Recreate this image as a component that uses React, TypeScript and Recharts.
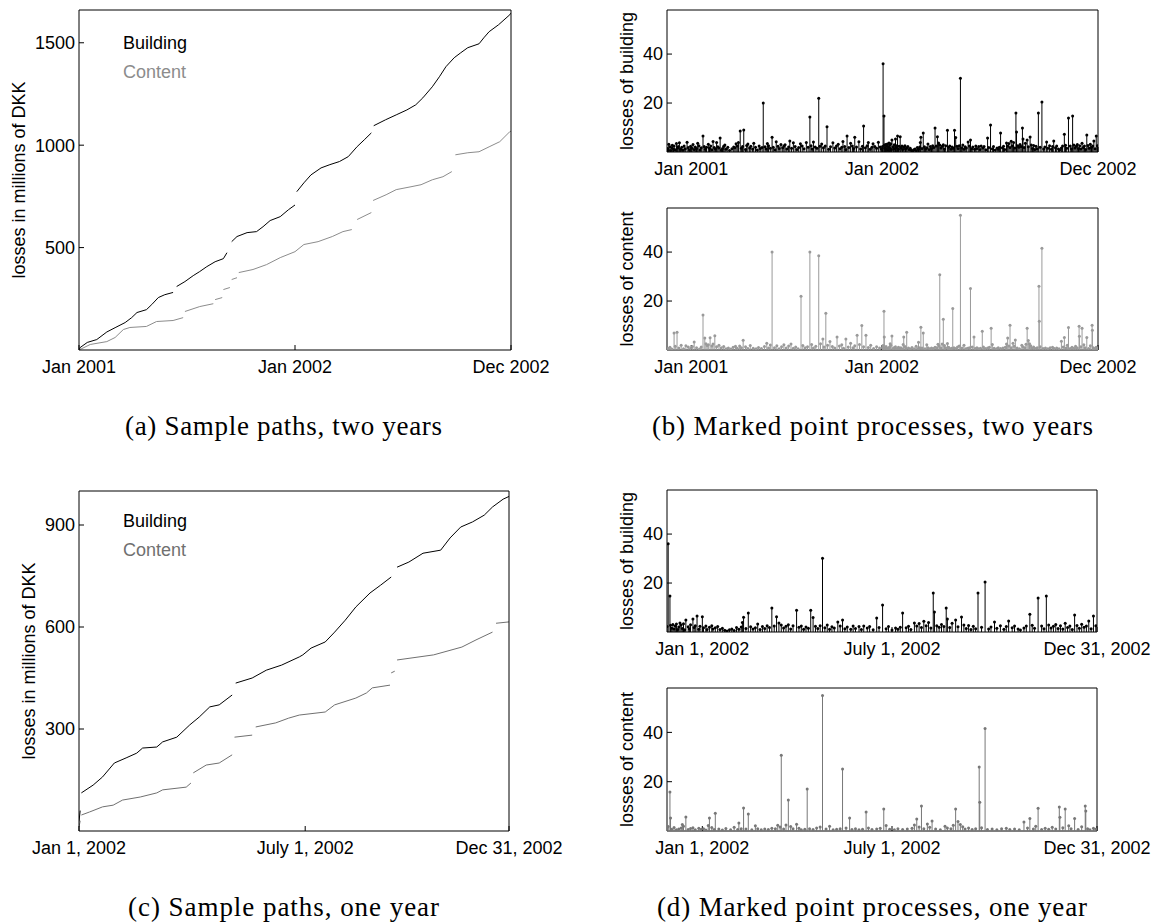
import React from 'react';
import { LineChart, Line, ScatterChart, Scatter, XAxis, YAxis, Legend } from 'recharts';

type Pt = [number, number];

const SANS = '"Liberation Sans", Arial, Helvetica, sans-serif';
const SERIF = '"Liberation Serif", "Times New Roman", serif';

// ---------- axis ticks (x in days) ----------
const pathTicks2y = [0, 365, 730];
const pathLabels2y = ['Jan 2001', 'Jan 2002', 'Dec 2002'];
const markTicks2y = [41, 364, 730];
const markLabels2y = ['Jan 2001', 'Jan 2002', 'Dec 2002'];
const pathTicks1y = [0, 192, 365];
const pathLabels1y = ['Jan 1, 2002', 'July 1, 2002', 'Dec 31, 2002'];
const markTicks1y = [30, 191, 365];
const markLabels1y = ['Jan 1, 2002', 'July 1, 2002', 'Dec 31, 2002'];

const lossTicks2y = [500, 1000, 1500];
const lossTicks1y = [300, 600, 900];
const markValueTicks = [20, 40];

// ---------- cumulative losses, two years (segments split at large jumps) ----------
const buildingPath2y: Pt[][] = [
  [[0, 0], [2, 12], [14, 37], [30, 51], [47, 88], [61, 109], [78, 134], [89, 158], [98, 183], [114, 197], [123, 222], [134, 256], [145, 270], [159, 281]],
  [[165, 310], [179, 334], [193, 363], [204, 383], [216, 407], [230, 431], [244, 446], [250, 475]],
  [[258, 529], [267, 554], [284, 573], [300, 578], [311, 602], [323, 632], [340, 651], [354, 685], [365, 708]],
  [[368, 773], [380, 816], [392, 855], [409, 889], [424, 905], [440, 920], [455, 944], [470, 993], [482, 1026], [494, 1060]],
  [[498, 1095], [518, 1124], [536, 1148], [554, 1172], [569, 1197], [581, 1231], [597, 1285], [609, 1334], [620, 1383], [634, 1427], [645, 1451], [657, 1476], [676, 1495], [684, 1524], [693, 1554], [709, 1588], [728, 1637], [730, 1645]],
];
const contentPath2y: Pt[][] = [
  [[0, 0], [19, 27], [47, 41], [61, 61], [75, 100], [86, 110], [114, 115], [131, 139], [159, 144], [176, 158]],
  [[179, 188], [204, 212], [227, 226]],
  [[230, 246], [242, 256]],
  [[244, 295], [255, 305]],
  [[258, 344], [267, 353]],
  [[270, 378], [294, 393], [317, 417], [340, 451], [365, 480], [380, 515], [404, 529], [428, 554], [446, 578], [461, 588]],
  [[470, 637], [494, 671]],
  [[497, 730], [519, 758], [536, 783], [561, 797], [578, 807], [597, 831], [615, 846], [630, 871]],
  [[636, 953], [657, 963], [676, 968], [693, 992], [711, 1017], [728, 1066], [730, 1068]],
];

// ---------- cumulative losses, one year ----------
const buildingPath1y: Pt[][] = [
  [[0, 28], [1, 60]],
  [[2, 112], [12, 135], [20, 159], [30, 200], [40, 215], [49, 229], [54, 244], [66, 247], [71, 262], [83, 276], [94, 312], [102, 335], [111, 365], [119, 371], [130, 400]],
  [[133, 435], [147, 450], [159, 473], [172, 488], [187, 512], [190, 518], [197, 538], [209, 556], [217, 585], [226, 620], [235, 659], [247, 700], [256, 723], [265, 747]],
  [[270, 776], [280, 791], [292, 817], [307, 826], [315, 862], [324, 894], [334, 909], [344, 929], [351, 953], [360, 976], [365, 984]],
];
const contentPath1y: Pt[][] = [
  [[0, 12], [1, 30]],
  [[2, 47], [9, 56], [20, 71], [29, 76], [37, 91], [52, 100], [66, 112], [71, 121], [91, 129], [95, 141]],
  [[97, 171], [108, 194], [119, 200], [130, 224]],
  [[132, 276], [147, 282]],
  [[150, 306], [167, 318], [178, 332], [187, 341], [209, 350], [217, 371], [235, 391], [244, 406], [249, 421], [264, 429]],
  [[265, 465], [268, 470]],
  [[270, 503], [301, 518], [325, 541], [337, 562], [351, 585]],
  [[354, 611], [365, 615]],
];

// ---------- individual losses [day of year, loss] ----------
const buildingMarks2001: Pt[] = [
  [34, 4.0], [61, 6.5], [90, 5.7], [124, 8.6], [130, 9.0], [163, 20.0], [178, 6.0], [208, 4.5], [242, 14.3], [257, 22.0], [271, 10.3], [305, 6.5], [318, 6.0], [333, 10.6],
  [3, 3.2], [9, 2.8], [16, 3.5], [21, 3.8], [44, 3.1], [52, 3.6], [70, 3.2], [78, 4.3], [84, 3.9], [98, 2.9], [117, 3.4], [121, 3.9], [137, 3.3], [147, 3.6], [170, 3.5], [185, 4.2],
  [193, 3.1], [200, 3.0], [214, 3.8], [226, 3.4], [236, 3.9], [248, 4.1], [262, 3.3], [281, 3.8], [290, 3.2], [298, 4.3], [311, 3.6], [325, 4.2], [341, 3.9], [349, 3.4], [358, 4.0],
  [1, 1.4], [2, 0.8], [5, 2.1], [6, 0.6], [8, 1.7], [11, 1.2], [12, 2.4], [14, 0.9], [18, 1.6], [19, 2.2], [23, 1.1], [25, 1.9], [27, 0.7], [29, 2.5], [31, 1.3], [36, 1.8],
  [38, 0.9], [40, 2.3], [42, 1.5], [46, 1.0], [48, 2.0], [50, 1.4], [54, 2.6], [56, 0.8], [58, 1.7], [63, 2.2], [65, 1.1], [67, 1.9], [72, 1.5], [74, 2.4], [76, 0.9], [80, 1.8],
  [82, 1.2], [86, 2.1], [88, 1.6], [92, 0.7], [94, 1.4], [96, 2.3], [100, 1.1], [103, 1.9], [106, 0.6], [110, 1.3], [113, 2.0], [115, 1.7], [119, 2.5], [126, 1.5], [128, 2.2],
  [133, 1.0], [135, 2.7], [140, 1.6], [142, 2.3], [145, 1.2], [150, 1.9], [153, 0.8], [156, 2.4], [158, 1.4], [161, 1.8], [166, 2.1], [168, 1.2], [172, 2.6], [175, 1.5],
  [180, 1.9], [183, 0.9], [188, 2.3], [190, 1.4], [196, 1.7], [198, 2.5], [203, 1.2], [206, 2.0], [211, 1.5], [217, 2.2], [220, 1.0], [223, 1.8], [229, 2.4], [232, 1.3],
  [239, 1.9], [244, 2.6], [246, 1.2], [251, 2.0], [254, 1.5], [259, 2.3], [265, 1.7], [268, 2.5], [274, 1.1], [277, 2.1], [284, 1.6], [287, 2.4], [293, 1.3], [296, 1.9],
  [301, 2.2], [303, 1.0], [308, 1.8], [314, 2.5], [316, 1.4], [321, 2.0], [328, 1.2], [331, 2.3], [336, 1.7], [339, 2.6], [344, 1.1], [347, 1.9], [352, 2.2], [355, 1.5],
  [361, 2.0], [363, 1.2],
];
const buildingMarks2002: Pt[] = [
  [1, 36.0], [2.5, 14.7], [11, 3.7], [16, 4.9], [22, 5.3], [25.5, 6.5], [30, 6.2], [65, 6.0], [69, 7.8], [89, 9.8], [93, 6.2], [110, 8.9], [122, 8.9], [124, 5.9], [132, 30.1],
  [145, 4.1], [149, 4.9], [178, 5.7], [183, 11.0], [200, 7.8], [210, 3.7], [226, 15.9], [227, 8.2], [237, 9.8], [238, 5.3], [245, 4.9], [250, 6.1], [264, 15.9], [270, 20.4],
  [278, 4.1], [290, 4.5], [308, 7.3], [315, 13.9], [322, 14.7], [346, 6.9], [358, 4.5], [362, 6.5],
  [0, 2.2], [3, 2.8], [4, 1.5], [5, 3.1], [6, 1.2], [7, 2.4], [8, 3.3], [9, 1.0], [10, 2.0], [12, 2.9], [13, 1.4], [14, 3.4], [15, 0.9], [18, 2.1], [19, 1.3], [20, 3.0],
  [23, 1.8], [24, 2.6], [27, 1.1], [28, 2.3], [31, 1.7], [33, 2.5], [34, 1.0], [36, 1.9], [38, 2.6], [39, 1.2], [41, 1.7], [43, 2.2], [45, 1.0], [47, 1.5], [49, 0.7],
  [51, 0.4], [53, 0.9], [55, 1.2], [57, 0.6], [59, 1.8], [61, 1.1], [63, 2.0], [64, 3.9], [67, 1.4], [71, 2.1], [73, 1.2], [75, 1.7], [77, 3.3], [79, 1.0], [81, 2.2],
  [83, 1.4], [85, 2.6], [87, 1.8], [91, 2.4], [95, 3.7], [97, 2.9], [99, 1.6], [101, 2.3], [103, 3.0], [105, 1.2], [107, 2.6], [112, 1.9], [114, 2.4], [116, 1.1], [118, 2.0],
  [120, 1.5], [126, 2.3], [128, 1.4], [130, 2.6], [134, 1.7], [136, 2.9], [138, 1.1], [140, 2.1], [142, 1.6], [147, 2.4], [151, 1.3], [153, 2.0], [156, 1.1], [158, 2.5],
  [160, 1.4], [163, 2.2], [165, 1.0], [167, 2.4], [170, 1.6], [172, 2.2], [175, 0.9], [180, 1.8], [186, 1.3], [188, 2.2], [191, 0.8], [194, 1.6], [196, 1.1], [198, 1.9],
  [203, 1.7], [205, 2.3], [207, 1.0], [212, 2.4], [214, 3.5], [216, 1.8], [218, 4.4], [220, 2.6], [222, 3.9], [224, 1.6], [229, 2.6], [231, 1.9], [233, 3.1], [235, 2.2],
  [240, 1.8], [242, 3.6], [247, 2.1], [252, 2.9], [254, 1.4], [256, 2.7], [258, 1.0], [260, 2.3], [262, 1.3], [267, 1.9], [273, 1.2], [275, 2.0], [280, 1.5], [283, 2.6],
  [286, 1.1], [288, 2.2], [293, 1.7], [295, 2.5], [298, 1.2], [300, 0.8], [303, 1.6], [305, 2.4], [310, 2.8], [312, 1.5], [318, 2.4], [320, 1.3], [324, 2.9], [326, 1.6],
  [328, 2.3], [330, 3.1], [332, 1.4], [334, 2.6], [336, 1.2], [338, 3.6], [340, 1.8], [342, 2.5], [344, 1.0], [348, 2.7], [350, 1.5], [352, 3.2], [354, 1.9], [356, 2.4],
  [360, 1.3], [364, 2.6],
];
const contentMarks2001: Pt[] = [
  [12, 6.9], [17, 7.3], [46, 3.3], [61, 14.3], [64, 4.9], [73, 5.0], [81, 5.8], [129, 4.0], [169, 2.8], [178, 40.0], [227, 22.0], [242, 40.0], [257, 38.5], [264, 4.5],
  [269, 15.0], [288, 5.3], [303, 4.5], [322, 6.0], [330, 10.0], [337, 6.0],
  [2, 0.6], [5, 1.1], [8, 0.4], [14, 1.5], [20, 0.8], [24, 1.9], [28, 0.5], [32, 1.7], [36, 1.2], [40, 0.6], [43, 1.4], [50, 0.9], [55, 0.4], [58, 1.2], [66, 2.6], [68, 1.8],
  [70, 2.1], [76, 1.6], [78, 2.4], [84, 1.3], [88, 1.9], [92, 0.9], [96, 1.4], [100, 0.5], [104, 0.8], [108, 0.4], [112, 1.1], [116, 1.5], [119, 0.7], [123, 1.6], [126, 0.9],
  [133, 1.3], [137, 0.6], [141, 1.8], [146, 0.7], [151, 0.5], [155, 1.0], [160, 0.6], [165, 1.4], [172, 0.8], [175, 2.0], [182, 0.9], [186, 1.7], [190, 0.5], [194, 1.3],
  [198, 2.1], [202, 0.8], [206, 1.6], [210, 2.4], [214, 0.7], [218, 1.2], [222, 0.5], [230, 1.8], [234, 0.9], [238, 1.3], [245, 2.2], [248, 0.8], [252, 1.5], [260, 2.6],
  [266, 1.2], [272, 1.9], [276, 3.5], [280, 1.4], [284, 0.8], [292, 1.6], [296, 2.1], [299, 0.7], [307, 1.2], [311, 2.8], [315, 0.9], [318, 1.7], [326, 2.2], [333, 1.3],
  [341, 1.0], [345, 1.9], [350, 0.6], [355, 1.3], [360, 0.8],
];
const contentMarks2002: Pt[] = [
  [2.5, 15.8], [3, 5.3], [16, 5.7], [36, 5.3], [41, 7.2], [61, 3.2], [65, 9.3], [69, 6.9], [97, 30.7], [103, 12.6], [119, 17.0], [132, 55.0], [149, 25.1], [155, 5.3],
  [169, 7.7], [184, 8.9], [212, 4.9], [216, 10.1], [225, 4.1], [245, 8.9], [265, 26.0], [265.5, 11.7], [270, 41.6], [303, 3.6], [308, 5.1], [315, 9.2], [333, 9.7],
  [333.5, 5.6], [338, 8.9], [346, 5.1], [355, 10.1], [355.5, 8.1],
  [0, 0.9], [1, 1.8], [4, 0.7], [6, 1.4], [8, 0.5], [10, 0.8], [12, 1.2], [13, 2.6], [14, 1.9], [18, 0.6], [20, 1.0], [22, 1.3], [24, 0.5], [27, 1.1], [29, 0.7], [31, 0.9],
  [33, 0.4], [35, 2.2], [38, 1.4], [40, 0.6], [44, 0.8], [47, 0.4], [50, 1.0], [54, 0.5], [57, 1.5], [60, 0.6], [63, 0.9], [67, 0.8], [72, 0.5], [75, 2.1], [77, 0.9],
  [80, 0.5], [83, 0.8], [86, 0.6], [89, 1.1], [92, 0.9], [94, 2.3], [96, 1.6], [99, 0.8], [101, 2.4], [105, 1.8], [107, 0.9], [110, 2.7], [112, 1.1], [114, 0.5], [117, 0.7],
  [121, 0.9], [124, 0.6], [127, 1.2], [130, 1.6], [135, 0.8], [138, 1.9], [141, 0.5], [144, 0.7], [147, 0.9], [152, 1.2], [157, 0.6], [160, 0.9], [163, 0.5], [166, 0.7],
  [171, 1.2], [174, 0.6], [178, 0.8], [181, 1.1], [186, 2.2], [189, 0.7], [193, 0.5], [196, 0.9], [200, 0.6], [204, 0.8], [208, 1.1], [210, 2.4], [214, 1.6], [218, 0.9],
  [221, 2.8], [223, 1.5], [228, 0.8], [232, 0.5], [236, 1.9], [238, 1.2], [241, 0.9], [243, 2.3], [247, 3.9], [249, 2.6], [251, 1.7], [253, 0.8], [256, 1.2], [259, 0.6],
  [262, 0.9], [267, 1.3], [272, 0.6], [276, 0.8], [280, 0.5], [284, 0.9], [288, 1.1], [291, 0.6], [295, 0.8], [299, 0.5], [306, 1.2], [311, 0.8], [313, 1.9], [318, 0.6],
  [321, 1.1], [324, 0.7], [327, 1.5], [330, 0.8], [336, 1.3], [341, 2.1], [343, 0.9], [349, 0.6], [352, 1.7], [357, 0.9], [359, 0.5], [362, 1.1], [364, 0.7],
];

// ---------- table builders ----------
type Row = { t: number; v: number | null };

// Joins the segments of a path, with a null row between segments so the line breaks at jumps.
function pathRows(segments: Pt[][]): Row[] {
  const rows: Row[] = [];
  segments.forEach((seg, i) => {
    if (i > 0) {
      const prev = segments[i - 1];
      rows.push({ t: (prev[prev.length - 1][0] + seg[0][0]) / 2, v: null });
    }
    seg.forEach(([t, v]) => rows.push({ t, v }));
  });
  return rows;
}

function markRows(first: Pt[], second?: Pt[]): Row[] {
  const rows: Row[] = first.map(([t, v]) => ({ t, v }));
  if (second) second.forEach(([t, v]) => rows.push({ t: t + 365, v }));
  return rows;
}

// ---------- shared pieces ----------
const axisText = { fontSize: 18, fontFamily: SANS, fill: '#000' };
const frameLine = { stroke: '#000', strokeWidth: 1 };

const fmt = (ticks: number[], labels: string[]) => (v: number) => {
  const i = ticks.indexOf(v);
  return i >= 0 ? labels[i] : '';
};

function YTitle(props: any) {
  const { viewBox, text, bx } = props;
  const vb = viewBox && typeof viewBox.y === 'number' ? viewBox : { y: 0, height: 0 };
  const cy = vb.y + vb.height / 2;
  return (
    <text x={bx} y={cy} transform={`rotate(-90 ${bx} ${cy})`} textAnchor="middle"
      style={{ fontSize: 18, fontFamily: SANS }} fill="#000">
      {text}
    </text>
  );
}

// Four axes that together draw the boxed frame with inward ticks on every side.
function frameAxes(opts: {
  xDomain: [number, number]; xTicks: number[]; xLabels: string[]; xHeight: number;
  yDomain: [number, number]; yTicks: number[]; yWidth: number; yTitle: string; titleX: number;
}) {
  return [
    <XAxis key="xb" xAxisId="b" dataKey="t" type="number" domain={opts.xDomain} ticks={opts.xTicks}
      interval={0} allowDataOverflow tickFormatter={fmt(opts.xTicks, opts.xLabels)} tick={axisText}
      tickSize={-5} tickMargin={15} height={opts.xHeight} axisLine={frameLine} tickLine={frameLine} />,
    <XAxis key="xt" xAxisId="t" orientation="top" type="number" domain={opts.xDomain} ticks={opts.xTicks}
      interval={0} allowDataOverflow tick={false} tickSize={-5} height={1} axisLine={frameLine} tickLine={frameLine} />,
    <YAxis key="yl" yAxisId="l" dataKey="v" type="number" domain={opts.yDomain} ticks={opts.yTicks}
      interval={0} allowDataOverflow tick={axisText} tickSize={-5} tickMargin={9} width={opts.yWidth}
      axisLine={frameLine} tickLine={frameLine} label={<YTitle text={opts.yTitle} bx={opts.titleX} />} />,
    <YAxis key="yr" yAxisId="r" orientation="right" type="number" domain={opts.yDomain} ticks={opts.yTicks}
      interval={0} allowDataOverflow tick={false} tickSize={-5} width={1} axisLine={frameLine} tickLine={frameLine} />,
  ];
}

function PathLegend(props: any) {
  const items = props.payload || [];
  return (
    <div style={{ fontFamily: SANS, fontSize: 18, lineHeight: '29px' }}>
      {items.map((it: any) => (
        <div key={it.value} style={{ color: it.color, whiteSpace: 'nowrap' }}>{it.value}</div>
      ))}
    </div>
  );
}

function PathPanel(props: {
  top: number; plotRight: number; building: Pt[][]; content: Pt[][]; contentColor: string;
  xDomain: [number, number]; xTicks: number[]; xLabels: string[];
  yMax: number; yTicks: number[]; titleX: number; legendTop: number;
}) {
  const W = 580;
  const H = 400;
  return (
    <div style={{ position: 'absolute', left: 0, top: props.top }}>
      <LineChart width={W} height={H} margin={{ top: 9, right: W - props.plotRight - 1, bottom: 0, left: 0 }}>
        {frameAxes({
          xDomain: props.xDomain, xTicks: props.xTicks, xLabels: props.xLabels, xHeight: 50,
          yDomain: [0, props.yMax], yTicks: props.yTicks, yWidth: 79,
          yTitle: 'losses in millions of DKK', titleX: props.titleX,
        })}
        <Legend layout="vertical" align="center" verticalAlign="middle"
          wrapperStyle={{ left: 123, top: props.legendTop, width: 120 }} content={PathLegend} />
        <Line xAxisId="b" yAxisId="l" data={pathRows(props.building)} dataKey="v" name="Building"
          stroke="#000" strokeWidth={1} dot={false} isAnimationActive={false} />
        <Line xAxisId="b" yAxisId="l" data={pathRows(props.content)} dataKey="v" name="Content"
          stroke={props.contentColor} strokeWidth={1} dot={false} isAnimationActive={false} />
      </LineChart>
    </div>
  );
}

const stemShape = (color: string, baseY: number) => (p: any) => {
  const { cx, cy } = p;
  if (cx == null || cy == null) return <g />;
  return (
    <g>
      <line x1={cx} x2={cx} y1={cy} y2={baseY} stroke={color} strokeWidth={1} />
      <circle cx={cx} cy={cy} r={1.5} fill={color} />
    </g>
  );
};

function StemPanel(props: {
  top: number; plotH: number; plotRight: number; rows: Row[]; color: string; title: string;
  xDomain: [number, number]; xTicks: number[]; xLabels: string[];
}) {
  const W = 578;
  const H = 10 + props.plotH + 40;
  return (
    <div style={{ position: 'absolute', left: 580, top: props.top }}>
      <ScatterChart width={W} height={H} margin={{ top: 9, right: W - (props.plotRight - 580) - 1, bottom: 0, left: 0 }}>
        {frameAxes({
          xDomain: props.xDomain, xTicks: props.xTicks, xLabels: props.xLabels, xHeight: 40,
          yDomain: [0, 58], yTicks: markValueTicks, yWidth: 87, yTitle: props.title, titleX: 53,
        })}
        <Scatter xAxisId="b" yAxisId="l" data={props.rows} dataKey="v" name={props.title}
          shape={stemShape(props.color, 10 + props.plotH)} isAnimationActive={false} />
      </ScatterChart>
    </div>
  );
}

const captionStyle = { fontFamily: SERIF, fontSize: 27, fill: '#000' };

export default function App() {
  return (
    <div style={{ position: 'absolute', left: 0, top: 0, width: 1158, height: 924, background: '#fff', overflow: 'hidden' }}>
      <svg width={1158} height={924} style={{ position: 'absolute', left: 0, top: 0 }}>
        <text x={125} y={435} textLength={317} lengthAdjust="spacing" style={captionStyle}>(a) Sample paths, two years</text>
        <text x={652} y={435} textLength={441} lengthAdjust="spacing" style={captionStyle}>(b) Marked point processes, two years</text>
        <text x={128} y={916} textLength={311} lengthAdjust="spacing" style={captionStyle}>(c) Sample paths, one year</text>
        <text x={657} y={916} textLength={430} lengthAdjust="spacing" style={captionStyle}>(d) Marked point processes, one year</text>
      </svg>

      <PathPanel top={0} plotRight={511} building={buildingPath2y} content={contentPath2y} contentColor="#8c8c8c"
        xDomain={[0, 730]} xTicks={pathTicks2y} xLabels={pathLabels2y}
        yMax={1660} yTicks={lossTicks2y} titleX={25} legendTop={29} />

      <PathPanel top={481} plotRight={509} building={buildingPath1y} content={contentPath1y} contentColor="#707070"
        xDomain={[0, 365]} xTicks={pathTicks1y} xLabels={pathLabels1y}
        yMax={1000} yTicks={lossTicks1y} titleX={35} legendTop={26} />

      <StemPanel top={0} plotH={142} plotRight={1098} rows={markRows(buildingMarks2001, buildingMarks2002)}
        color="#000" title="losses of building" xDomain={[0, 730]} xTicks={markTicks2y} xLabels={markLabels2y} />
      <StemPanel top={198} plotH={142} plotRight={1098} rows={markRows(contentMarks2001, contentMarks2002)}
        color="#9a9a9a" title="losses of content" xDomain={[0, 730]} xTicks={markTicks2y} xLabels={markLabels2y} />

      <StemPanel top={480} plotH={142} plotRight={1097} rows={markRows(buildingMarks2002)}
        color="#000" title="losses of building" xDomain={[0, 365]} xTicks={markTicks1y} xLabels={markLabels1y} />
      <StemPanel top={678} plotH={143} plotRight={1097} rows={markRows(contentMarks2002)}
        color="#777" title="losses of content" xDomain={[0, 365]} xTicks={markTicks1y} xLabels={markLabels1y} />
    </div>
  );
}
